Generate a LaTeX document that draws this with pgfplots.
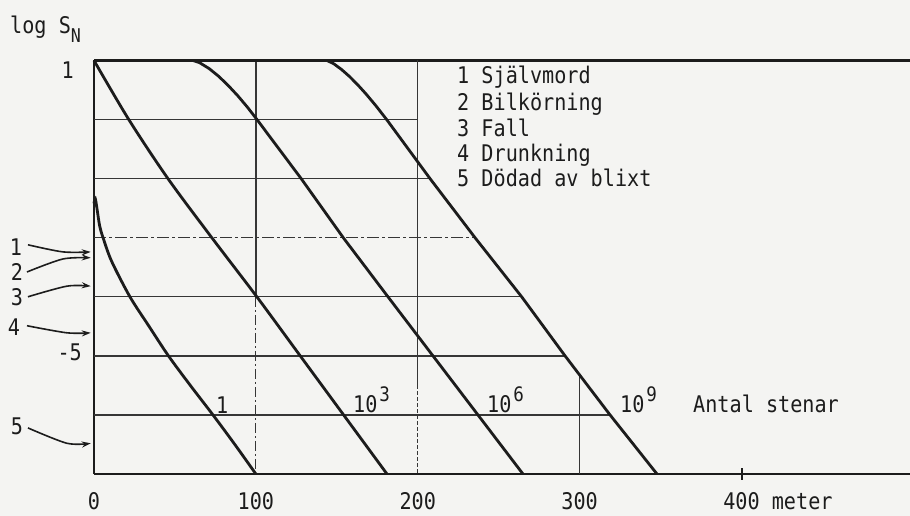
\documentclass[border=0pt]{standalone}
\usepackage{pgfplots}
\pgfplotsset{compat=1.18}
\usepackage{fontspec}
\setmainfont[FakeStretch=0.88]{DejaVu Sans Mono}
\usetikzlibrary{arrows.meta}
\definecolor{paper}{HTML}{F4F4F2}
\definecolor{ink}{HTML}{1C1C1C}
\definecolor{rule}{HTML}{363636}

% typewriter-style superscript for the stone counts
\newcommand{\pw}[1]{\kern2bp\raisebox{11bp}{\fontsize{20}{22}\selectfont #1}}

\begin{document}
\fontsize{23}{26}\selectfont
\begin{tikzpicture}
\useasboundingbox (0,0) rectangle (910bp,516bp);
\fill[paper] (0,0) rectangle (910bp,516bp);
\begin{axis}[
  at={(94bp,42bp)}, anchor=south west,
  scale only axis, width=816bp, height=413.5bp,
  xmin=0, xmax=504.1, ymin=-7, ymax=0,
  clip=false,
  axis x line=bottom, axis y line=left,
  axis line style={-, ink, line width=2.6bp},
  every outer x axis line/.append style={-},
  every outer y axis line/.append style={-},
  xtick={0,100,200,300,400},
  xticklabels={0,100,200,300,400\rlap{ meter}},
  ytick=\empty,
  major tick length=0bp,
  xticklabel style={font=\fontsize{23}{26}\selectfont, text=ink, inner sep=0pt, anchor=north, yshift=-18bp},
]
% top edge of the diagram
\addplot[ink, line width=2.4bp] coordinates {(0,0) (504.1,0)};
% tick mark at 400 m
\addplot[ink, line width=2bp] coordinates {(400,-6.9) (400,-7.1)};

% grid: horizontal lines end at the 10^9 curve
\addplot[rule, line width=1.3bp] coordinates {(0,-1) (200,-1)};
\addplot[rule, line width=1.3bp] coordinates {(0,-2) (207.6,-2)};
\addplot[rule, line width=1.2bp, dash pattern=on 12bp off 3bp on 3bp off 3bp] coordinates {(0,-3) (235.4,-3)};
\addplot[rule, line width=1.3bp] coordinates {(0,-4) (264.2,-4)};
\addplot[rule, line width=1.3bp] coordinates {(0,-5) (291,-5)};
\addplot[rule, line width=1.3bp] coordinates {(0,-6) (318.8,-6)};
% grid: vertical lines
\addplot[rule, line width=1.3bp] coordinates {(100,0) (100,-4)};
\addplot[rule, line width=1.1bp, dash pattern=on 10bp off 3bp on 2bp off 3bp] coordinates {(100,-4) (100,-7)};
\addplot[rule, line width=1.3bp] coordinates {(200,0) (200,-5.5)};
\addplot[rule, line width=1.1bp, dash pattern=on 4bp off 2bp] coordinates {(200,-5.5) (200,-7)};
\addplot[rule, line width=1.3bp] coordinates {(300,-5.32) (300,-7)};

% log S_N against distance, one curve per number of stones
% 1 stone
\addplot[ink, line width=2.8bp, smooth, tension=0.5] coordinates {
  (0,-2.42) (0.8,-2.34) (1.8,-2.5) (3.5,-2.8) (5.6,-3.0) (10.9,-3.4)
  (22.2,-4.0) (34,-4.5) (46,-5.0) (59.5,-5.5) (73.5,-6.0) (87,-6.5) (100,-7)};
% 10^3 stones
\addplot[ink, line width=2.8bp, smooth, tension=0.5] coordinates {
  (0,0) (21.5,-1) (45.7,-2) (72.8,-3) (100.6,-4) (127.4,-5) (154.2,-6) (181,-7)};
% 10^6 stones
\addplot[ink, line width=2.8bp, line join=round] coordinates {
  (0,0) (61.2,0) (65.15,-0.036) (71.1,-0.136) (77.0,-0.267) (82.9,-0.423)
  (88.85,-0.598) (94.8,-0.791) (100.7,-1) (128,-2) (154,-3)
  (181.6,-4) (209.4,-5) (237.2,-6) (265,-7)};
% 10^9 stones
\addplot[ink, line width=2.8bp, line join=round] coordinates {
  (0,0) (143.9,0) (148,-0.053) (153,-0.154) (158,-0.275) (163,-0.414)
  (168,-0.565) (174,-0.761) (180.8,-1) (207.6,-2) (235.4,-3)
  (264.2,-4) (291,-5) (318.8,-6) (347.8,-7)};

% risk levels marked on the log S_N axis
\addplot[ink, line width=1.6bp, smooth, tension=0.5, -{Stealth[length=9bp,width=6bp]}] coordinates {(-40.8,-3.12) (-19.2,-3.24) (-2,-3.24)};
\addplot[ink, line width=1.6bp, smooth, tension=0.5, -{Stealth[length=9bp,width=6bp]}] coordinates {(-41.4,-3.58) (-19.2,-3.36) (-2,-3.34)};
\addplot[ink, line width=1.6bp, smooth, tension=0.5, -{Stealth[length=9bp,width=6bp]}] coordinates {(-40.8,-4.00) (-16.7,-3.82) (-2,-3.82)};
\addplot[ink, line width=1.6bp, smooth, tension=0.5, -{Stealth[length=9bp,width=6bp]}] coordinates {(-41.4,-4.49) (-16.7,-4.61) (-2,-4.61)};
\addplot[ink, line width=1.6bp, smooth, tension=0.5, -{Stealth[length=9bp,width=6bp]}] coordinates {(-40.8,-6.22) (-16.7,-6.48) (-2,-6.48)};
\end{axis}

\begin{scope}[x=1bp, y=-1bp, shift={(0,516bp)},
  every node/.style={inner sep=0pt, text=ink, font=\fontsize{23}{26}\selectfont}]
  % axis title
  \node[anchor=base west] at (10,34) {log S\raisebox{-9bp}{\fontsize{19}{21}\selectfont N}};
  % values on the log S_N axis
  \node[anchor=east] at (74,70.5) {1};
  \node[anchor=east] at (82,352.5) {-5};
  % legend of the marked risks
  \node[anchor=base west] at (457,83.5) {1 Självmord};
  \node[anchor=base west] at (457,110.2) {2 Bilkörning};
  \node[anchor=base west] at (457,136.8) {3 Fall};
  \node[anchor=base west] at (457,161.8) {4 Drunkning};
  \node[anchor=base west] at (457,186.8) {5 Dödad av blixt};
  % arrow numbers
  \node at (16,247) {1};
  \node at (17,272) {2};
  \node at (17,297) {3};
  \node at (14,327) {4};
  \node at (17,426) {5};
  % number of stones on each curve
  \node[anchor=base west] at (216,414) {1};
  \node[anchor=base west] at (353,413) {10\pw{3}};
  \node[anchor=base west] at (487,413) {10\pw{6}};
  \node[anchor=base west] at (620,413) {10\pw{9}};
  \node[anchor=base west] at (693,413) {Antal stenar};
\end{scope}
\end{tikzpicture}
\end{document}
